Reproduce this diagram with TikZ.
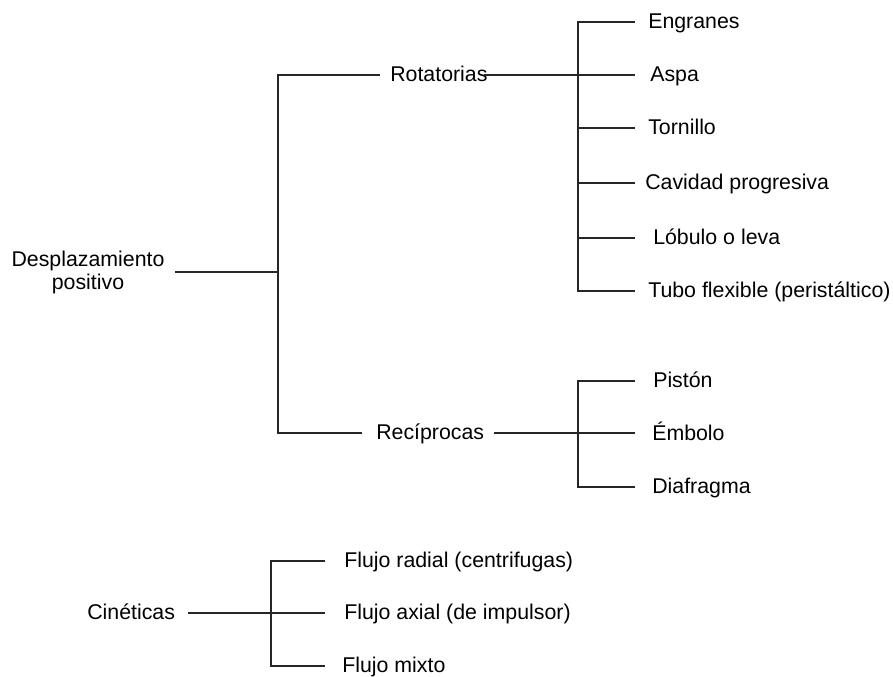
\documentclass[tikz,border=0pt]{standalone}
\usepackage{fontspec}
\setmainfont{Liberation Sans}
\usetikzlibrary{calc}
\begin{document}
\begin{tikzpicture}[x=0.75pt,y=-0.75pt,
  every node/.style={font=\fontsize{16pt}{17.25pt}\selectfont, inner sep=0pt, text=black},
  ln/.style={line width=0.8pt, draw=black!85},
  txt/.style={anchor=base west}]
\useasboundingbox (0,0) rectangle (893,677);

% texts
\node[align=center, anchor=base] (dp) at (88,290) {Desplazamiento\\positivo};
\node[txt] (rot) at (390,81.5) {Rotatorias};
\node[txt] (rec) at (376,439.5) {Recíprocas};
\node[txt] (eng) at (648,28.5) {Engranes};
\node[txt] (asp) at (650,81.5) {Aspa};
\node[txt] (tor) at (648,134.5) {Tornillo};
\node[txt] (cav) at (645,189.5) {Cavidad progresiva};
\node[txt] (lob) at (653,244.5) {Lóbulo o leva};
\node[txt] (tub) at (648,297.5) {Tubo flexible (peristáltico)};
\node[txt] (pis) at (653,387.5) {Pistón};
\node[txt] (emb) at (652,440.5) {Émbolo};
\node[txt] (dia) at (652,493.5) {Diafragma};
\node[txt] (cin) at (87,619.5) {Cinéticas};
\node[txt] (fr) at (344,567.5) {Flujo radial (centrifugas)};
\node[txt] (fa) at (344,619.5) {Flujo axial (de impulsor)};
\node[txt] (fm) at (342,672.5) {Flujo mixto};

% junction points
\coordinate (dpR) at (175,272);
\coordinate (j1) at (278,272);
\coordinate (rotL) at (380,75);
\coordinate (rotR) at (484,75);
\coordinate (recL) at (362,433);
\coordinate (recR) at (494,433);
\coordinate (j2) at (578,75);
\coordinate (j3) at (578,433);
\coordinate (cinR) at (188,613);
\coordinate (j4) at (271,613);

% main tree
\draw[ln] (dpR) -- (j1);
\draw[ln] (rotL) -| (j1) |- (recL);
\draw[ln] (rotR) -- (635,75) coordinate (aspL);
\draw[ln] (recR) -- (635,433) coordinate (embL);

% rotatorias branches
\draw[ln] (635,22) coordinate (engL) -| (578,291) -- (635,291) coordinate (tubL);
\draw[ln] (578,128) -- (635,128) coordinate (torL);
\draw[ln] (578,183) -- (635,183) coordinate (cavL);
\draw[ln] (578,238) -- (635,238) coordinate (lobL);

% reciprocas branches
\draw[ln] (635,381) coordinate (pisL) -| (578,487) -- (635,487) coordinate (diaL);

% cineticas
\draw[ln] (cinR) -- (325,613) coordinate (faL);
\draw[ln] (325,561) coordinate (frL) -| (271,666) -- (325,666) coordinate (fmL);
\end{tikzpicture}
\end{document}
